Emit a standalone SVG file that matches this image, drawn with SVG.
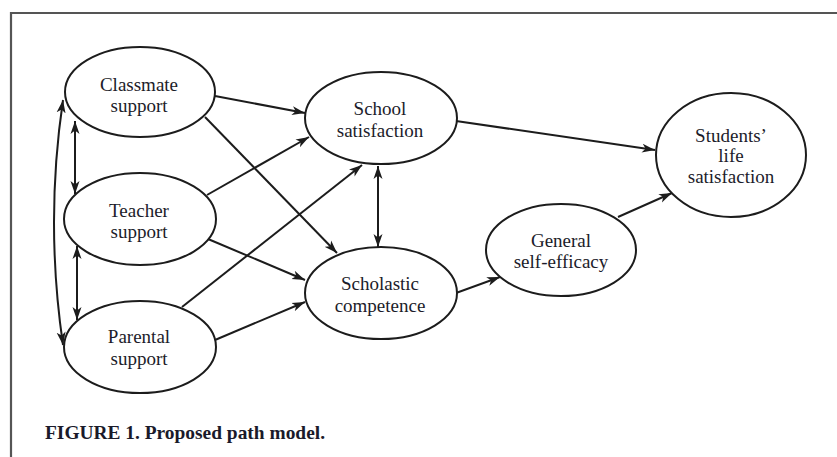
<svg xmlns="http://www.w3.org/2000/svg" width="837" height="457" viewBox="0 0 837 457">
  <style>
    .node ellipse { fill: #fff; stroke: #1c1c1c; stroke-width: 2; }
    .node text { font-family: "Liberation Serif", "Times New Roman", serif; font-size: 19px; fill: #1c1c2a; text-anchor: middle; }
    .edge { fill: none; stroke: #1c1c1c; stroke-width: 2; marker-end: url(#arrow); }
    .both { marker-start: url(#arrow); }
    .frame { fill: none; stroke: #555; stroke-width: 2.2; }
    .caption { font-family: "Liberation Serif", "Times New Roman", serif; font-size: 19px; fill: #1a1a2a; font-weight: bold; }
  </style>
  <defs>
    <marker id="arrow" markerUnits="userSpaceOnUse" markerWidth="14" markerHeight="10" refX="13" refY="5" orient="auto-start-reverse" viewBox="0 0 14 10">
      <path d="M0,0.5 L13,5 L0,9.5 L3.5,5 Z" fill="#1c1c1c"/>
    </marker>
  </defs>

  <rect width="837" height="457" fill="#fff"/>
  <!-- page frame (top and left rules) -->
  <path class="frame" d="M11,457 V13 H837"/>

  <g id="connectors">
    <!-- correlations among support sources -->
    <path class="edge both" d="M75,121 L75,194"/>
    <path class="edge both" d="M77,246 L77,320"/>
    <path class="edge both" d="M63,100 Q45,222 63,345"/>
    <!-- support to school outcomes -->
    <path class="edge" d="M215,96 L305,113"/>
    <path class="edge" d="M205,117 L337,253"/>
    <path class="edge" d="M207,195 L309,137"/>
    <path class="edge" d="M208,239 L305,280"/>
    <path class="edge" d="M182,307 L362,165"/>
    <path class="edge" d="M215,340 L305,302"/>
    <!-- school satisfaction and scholastic competence -->
    <path class="edge both" d="M378,166 L378,247"/>
    <!-- to outcomes -->
    <path class="edge" d="M456,121 L655,150"/>
    <path class="edge" d="M456,293 L500,277"/>
    <path class="edge" d="M618,217 L672,193"/>
  </g>

  <g id="classmate" class="node">
    <ellipse cx="140" cy="92" rx="75" ry="45"/>
    <text x="139" y="91">Classmate</text>
    <text x="139" y="112">support</text>
  </g>
  <g id="teacher" class="node">
    <ellipse cx="140" cy="219" rx="76" ry="46"/>
    <text x="139" y="217">Teacher</text>
    <text x="139" y="238">support</text>
  </g>
  <g id="parental" class="node">
    <ellipse cx="140" cy="347" rx="76" ry="46"/>
    <text x="139" y="343">Parental</text>
    <text x="139" y="365">support</text>
  </g>
  <g id="school" class="node">
    <ellipse cx="381" cy="118" rx="76" ry="46"/>
    <text x="380" y="115">School</text>
    <text x="380" y="137">satisfaction</text>
  </g>
  <g id="scholastic" class="node">
    <ellipse cx="381" cy="293" rx="76" ry="46"/>
    <text x="380" y="290">Scholastic</text>
    <text x="380" y="312">competence</text>
  </g>
  <g id="efficacy" class="node">
    <ellipse cx="561" cy="250" rx="75" ry="46"/>
    <text x="561" y="247">General</text>
    <text x="561" y="268">self-efficacy</text>
  </g>
  <g id="life" class="node">
    <ellipse cx="731" cy="155" rx="75" ry="62"/>
    <text x="731" y="142">Students’</text>
    <text x="731" y="162">life</text>
    <text x="731" y="183">satisfaction</text>
  </g>

  <text class="caption" x="45" y="439" textLength="280" lengthAdjust="spacingAndGlyphs">FIGURE 1. Proposed path model.</text>
</svg>
